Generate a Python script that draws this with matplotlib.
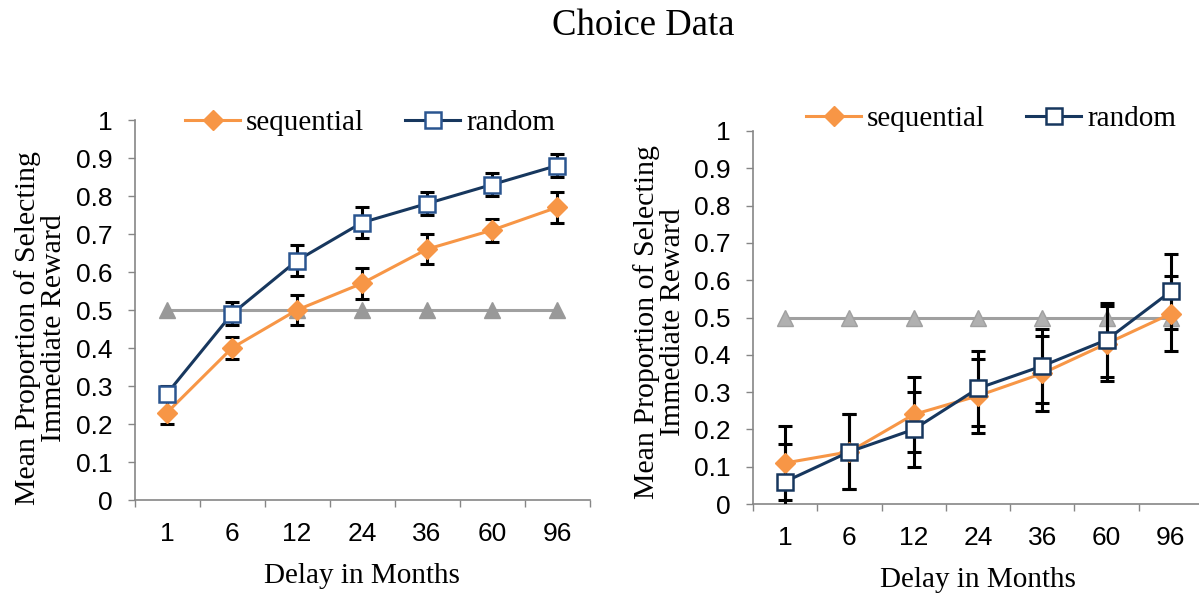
import matplotlib
matplotlib.use("Agg")
import matplotlib.pyplot as plt
import numpy as np

delays = ["1", "6", "12", "24", "36", "60", "96"]

left_seq = [0.23, 0.40, 0.50, 0.57, 0.66, 0.71, 0.77]
left_seq_err = [0.03, 0.03, 0.04, 0.04, 0.04, 0.03, 0.04]
left_rand = [0.28, 0.49, 0.63, 0.73, 0.78, 0.83, 0.88]
left_rand_err = [0.02, 0.03, 0.04, 0.04, 0.03, 0.03, 0.03]

right_seq = [0.11, 0.14, 0.24, 0.29, 0.35, 0.43, 0.51]
right_seq_err = [0.10, 0.10, 0.10, 0.10, 0.10, 0.10, 0.10]
right_rand = [0.06, 0.14, 0.20, 0.31, 0.37, 0.44, 0.57]
right_rand_err = [0.10, 0.10, 0.10, 0.10, 0.10, 0.10, 0.10]

chance = [0.5, 0.5, 0.5, 0.5, 0.5, 0.5, 0.5]

yticks = [0, 0.1, 0.2, 0.3, 0.4, 0.5, 0.6, 0.7, 0.8, 0.9, 1]
ytick_labels = ["0", "0.1", "0.2", "0.3", "0.4", "0.5", "0.6", "0.7", "0.8", "0.9", "1"]

SERIF = "Liberation Serif"
SANS = "Liberation Sans"
ORANGE = "#F79646"
NAVY = "#17375E"
SPINE = "#868686"

fig = plt.figure(figsize=(11.99, 5.93), dpi=100)

def panel(rect, seq, seq_err, rand, rand_err, sq_edge, tri_face, tri_edge, leg_anchor,
          ylab_xy):
    ax = fig.add_axes(rect)
    x = np.arange(len(delays))
    ax.plot(x, chance, color="#A0A0A0", lw=2.2, marker="^", ms=11.5,
            mfc=tri_face, mec=tri_edge, zorder=3)
    ax.errorbar(x, seq, yerr=seq_err, fmt="none", ecolor="black", elinewidth=2.2,
                capsize=5, capthick=2.2, zorder=4)
    ax.errorbar(x, rand, yerr=rand_err, fmt="none", ecolor="black", elinewidth=2.2,
                capsize=5, capthick=2.2, zorder=4)
    l1, = ax.plot(x, seq, color=ORANGE, lw=2.2, marker="D", ms=10,
                  mfc=ORANGE, mec=ORANGE, zorder=5, label="sequential")
    l2, = ax.plot(x, rand, color=NAVY, lw=2.2, marker="s", ms=12,
                  mfc="white", mec=sq_edge, mew=1.8, zorder=6, label="random")
    ax.set_xlim(-0.5, 6.5)
    ax.set_ylim(0, 1)
    ax.set_yticks(yticks)
    ax.set_yticklabels(ytick_labels, fontfamily=SANS, fontsize=19)
    ax.set_xticks(np.arange(-0.5, 7.0, 1.0))
    ax.set_xticklabels([])
    ax.set_xticks(x, minor=True)
    ax.set_xticklabels(delays, minor=True, fontfamily=SANS, fontsize=19)
    ax.tick_params(axis="x", which="major", direction="out", length=5, width=1, color=SPINE)
    ax.tick_params(axis="x", which="minor", length=0, pad=16)
    ax.tick_params(axis="y", direction="out", length=5, width=1, color=SPINE, pad=11)
    for s in ["top", "right"]:
        ax.spines[s].set_visible(False)
    for s in ["left", "bottom"]:
        ax.spines[s].set_color(SPINE)
        ax.spines[s].set_linewidth(1.2)
    ax.set_xlabel("Delay in Months", fontfamily=SERIF, fontsize=21, labelpad=12)
    fig.text(ylab_xy[0], ylab_xy[1], "Mean Proportion of Selecting\nImmediate Reward",
             rotation=90, ha="center", va="center", multialignment="center",
             fontfamily=SERIF, fontsize=21.5, linespacing=1.0)
    fig.legend(handles=[l1, l2], loc="center", bbox_to_anchor=leg_anchor, ncol=2,
               frameon=False, prop={"family": SERIF, "size": 21},
               handlelength=1.9, handletextpad=0.2, columnspacing=1.4)
    return ax

panel([134.5 / 1199, 1 - 500 / 593, (589.5 - 134.5) / 1199, 380 / 593],
      left_seq, left_seq_err, left_rand, left_rand_err,
      "#2A5590", "#999999", "#999999", (370 / 1199, 1 - 123 / 593),
      (41 / 1199, 1 - 328 / 593))
panel([753 / 1199, 1 - 504 / 593, (1203 - 753) / 1199, 373 / 593],
      right_seq, right_seq_err, right_rand, right_rand_err,
      NAVY, "#B0B0B0", "#A0A0A0", (991 / 1199, 1 - 119 / 593),
      (660 / 1199, 1 - 322 / 593))

fig.text(643 / 1199, 1 - 26 / 593, "Choice Data", ha="center", va="center",
         fontfamily=SERIF, fontsize=26.5)

fig.savefig("out.png", dpi=100)
